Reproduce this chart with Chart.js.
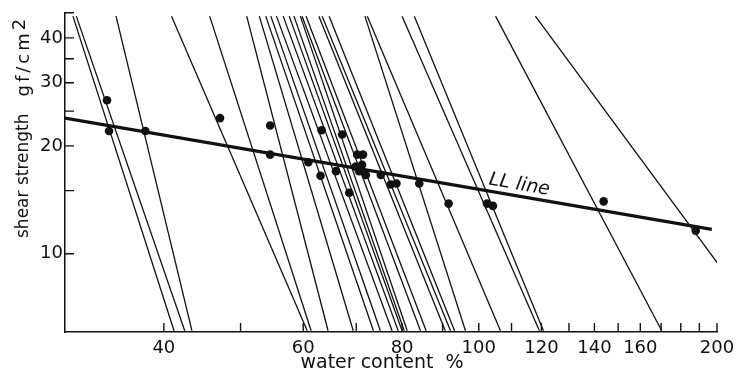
<!DOCTYPE html>
<html lang="en">
<head>
<meta charset="UTF-8">
<title>Shear strength vs water content</title>
<script src="https://cdn.jsdelivr.net/npm/chart.js"></script>
<style>
  body { margin: 0; background: #fff; }
</style>
</head>
<body>
<canvas id="chart" width="749" height="377"></canvas>
<script>
// each flow line runs from the top of the plot to the bottom (strength values below)
const lineEndStrength = [46, 6.1];
const lineTopWater = [30.7, 31.0, 34.8, 40.9, 45.7, 50.9, 52.8, 53.8, 54.6, 55.5, 56.6, 57.6, 58.4,
                      59.5, 59.8, 60.5, 62.8, 63.4, 64.7, 71.8, 72.3, 80.0, 82.9, 105.0, 117.9];
const lineBottomWater = [41.2, 42.5, 43.4, 60.7, 61.4, 64.5, 69.4, 73.6, 75.1, 77.7, 79.1, 80.0, 80.5,
                         81.2, 84.4, 85.8, 90.7, 92.1, 93.2, 96.2, 106.5, 119.3, 120.7, 170.3, 231.6];

// liquid limit points
const dotWater = [33.9, 34.1, 37.9, 47.1, 54.5, 54.5, 60.9, 63.3, 63.1, 66.0, 67.2, 68.6, 70.2, 71.4,
                  69.9, 70.6, 71.2, 72.0, 75.2, 77.4, 78.7, 84.1, 91.6, 102.4, 104.2, 143.8, 188.0];
const dotStrength = [26.8, 22.0, 22.0, 23.9, 22.8, 18.9, 18.0, 22.1, 16.5, 17.0, 21.5, 14.8, 18.9, 18.9,
                     17.5, 17.0, 17.7, 16.6, 16.6, 15.6, 15.7, 15.7, 13.8, 13.8, 13.6, 14.0, 11.6];

// LL line
const llWater = [30, 197];
const llStrength = [23.9, 11.7];

const xTicks = [40, 50, 60, 70, 80, 90, 100, 110, 120, 130, 140, 150, 160, 170, 180, 190, 200];
const xLabels = [40, 60, 80, 100, 120, 140, 160, 200];
const yTicks = [10, 15, 20, 25, 30, 35, 40];
const yLabels = [10, 20, 30, 40];

const INK = '#111';
const FONT = '"DejaVu Sans", sans-serif';

const datasets = lineTopWater.map((w, i) => ({
  data: [{x: w, y: lineEndStrength[0]}, {x: lineBottomWater[i], y: lineEndStrength[1]}],
  showLine: true,
  borderColor: INK,
  borderWidth: 1.3,
  pointRadius: 0
}));

datasets.push({
  data: llWater.map((w, i) => ({x: w, y: llStrength[i]})),
  showLine: true,
  borderColor: INK,
  borderWidth: 3.2,
  pointRadius: 0
});

datasets.push({
  data: dotWater.map((w, i) => ({x: w, y: dotStrength[i]})),
  showLine: false,
  pointRadius: 4.3,
  pointBackgroundColor: INK,
  pointBorderWidth: 0
});

// inward tick marks, axis titles and the "LL line" note
const extras = {
  id: 'extras',
  afterDraw(chart) {
    const {ctx, chartArea: a, scales: {x, y}} = chart;
    ctx.save();
    ctx.strokeStyle = INK;
    ctx.lineWidth = 1.4;
    ctx.beginPath();
    xTicks.forEach(v => {
      const px = x.getPixelForValue(v);
      ctx.moveTo(px, a.bottom);
      ctx.lineTo(px, a.bottom - 9);
    });
    yTicks.forEach(v => {
      const py = y.getPixelForValue(v);
      ctx.moveTo(a.left, py);
      ctx.lineTo(a.left + 9, py);
    });
    ctx.moveTo(a.left, a.top);
    ctx.lineTo(a.left + 9, a.top);
    ctx.stroke();

    ctx.fillStyle = INK;

    // x title
    ctx.font = '19px ' + FONT;
    ctx.textAlign = 'center';
    ctx.textBaseline = 'middle';
    ctx.fillText('water content  %', 382, 363);

    // y title, reads bottom to top
    ctx.save();
    ctx.translate(24, 238);
    ctx.rotate(-Math.PI / 2);
    ctx.textAlign = 'left';
    ctx.font = '17px ' + FONT;
    ctx.fillText('shear strength', 0, 0);
    let off = ctx.measureText('shear strength').width + 17;
    ctx.font = '18px ' + FONT;
    ctx.letterSpacing = '3px';
    ctx.fillText('gf/cm', off, 0);
    off += ctx.measureText('gf/cm').width;
    ctx.fillText('2', off, -4);
    ctx.restore();

    // label on the LL line
    const p0 = {x: x.getPixelForValue(llWater[0]), y: y.getPixelForValue(llStrength[0])};
    const p1 = {x: x.getPixelForValue(llWater[1]), y: y.getPixelForValue(llStrength[1])};
    const ang = Math.atan2(p1.y - p0.y, p1.x - p0.x);
    ctx.save();
    ctx.translate(x.getPixelForValue(102.8), y.getPixelForValue(15.6));
    ctx.rotate(ang);
    ctx.font = 'italic 19px ' + FONT;
    ctx.textAlign = 'left';
    ctx.textBaseline = 'alphabetic';
    ctx.fillText('LL line', 0, 0);
    ctx.restore();

    ctx.restore();
  }
};

new Chart(document.getElementById('chart'), {
  type: 'scatter',
  data: {datasets},
  options: {
    responsive: false,
    animation: false,
    layout: {padding: {top: 10, right: 32, left: 0, bottom: 0}},
    plugins: {legend: {display: false}, tooltip: {enabled: false}},
    scales: {
      x: {
        type: 'logarithmic',
        min: 30,
        max: 200,
        afterBuildTicks: s => { s.ticks = xTicks.map(v => ({value: v})); },
        afterFit: s => { s.height = 45; },
        grid: {drawOnChartArea: false, drawTicks: false},
        border: {color: INK, width: 1.5},
        ticks: {
          autoSkip: false,
          maxRotation: 0,
          padding: 6,
          color: INK,
          font: {family: FONT, size: 18},
          callback: v => xLabels.includes(v) ? String(v) : ''
        }
      },
      y: {
        type: 'logarithmic',
        min: 6.05,
        max: 47,
        afterBuildTicks: s => { s.ticks = yTicks.map(v => ({value: v})); },
        afterFit: s => { s.width = 65; },
        grid: {drawOnChartArea: false, drawTicks: false},
        border: {color: INK, width: 1.5},
        ticks: {
          autoSkip: false,
          padding: 2,
          color: INK,
          font: {family: FONT, size: 18},
          callback: v => yLabels.includes(v) ? String(v) : ''
        }
      }
    }
  },
  plugins: [extras]
});
</script>
</body>
</html>
